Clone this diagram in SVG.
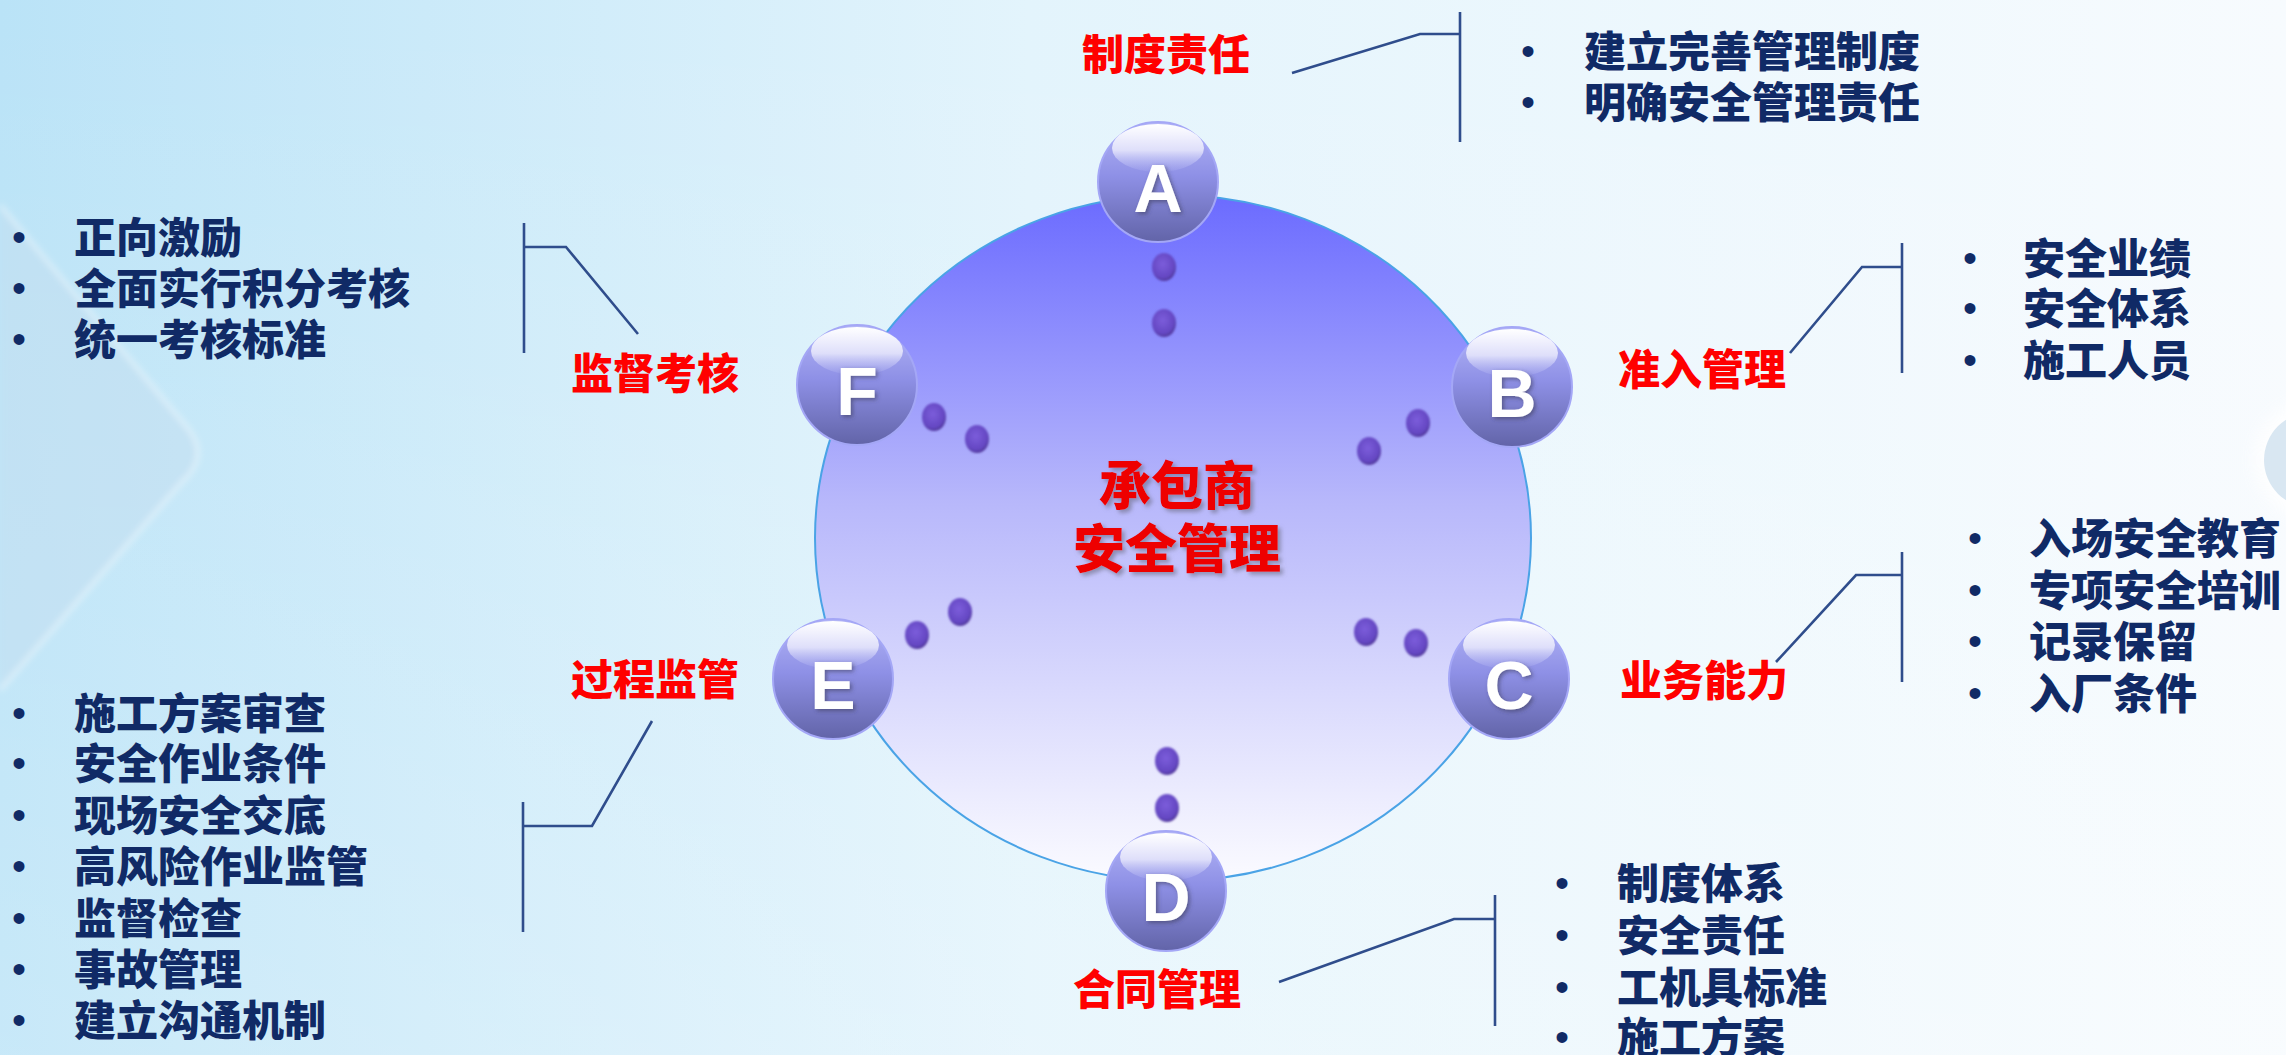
<svg xmlns="http://www.w3.org/2000/svg" width="2286" height="1055" viewBox="0 0 2286 1055">
<defs>
<linearGradient id="bg" x1="0" y1="0" x2="1" y2="0">
<stop offset="0" stop-color="#bae3f7"/>
<stop offset="0.45" stop-color="#e3f4fc"/>
<stop offset="1" stop-color="#f7fbfe"/>
</linearGradient>
<linearGradient id="bgv" x1="0" y1="0" x2="0" y2="1">
<stop offset="0" stop-color="#ffffff" stop-opacity="0"/>
<stop offset="1" stop-color="#ffffff" stop-opacity="0.2"/>
</linearGradient>
<linearGradient id="big" x1="0" y1="0" x2="0" y2="1">
<stop offset="0" stop-color="#6b6bff"/>
<stop offset="0.45" stop-color="#b8b8fb"/>
<stop offset="1" stop-color="#fbfbff"/>
</linearGradient>
<linearGradient id="sphere" x1="0" y1="0" x2="0" y2="1">
<stop offset="0" stop-color="#b4b6f6"/>
<stop offset="0.45" stop-color="#8e90e6"/>
<stop offset="1" stop-color="#6264a8"/>
</linearGradient>
<linearGradient id="gloss" x1="0" y1="0" x2="0" y2="1">
<stop offset="0" stop-color="#ffffff" stop-opacity="1"/>
<stop offset="0.55" stop-color="#eeeefd" stop-opacity="0.8"/>
<stop offset="1" stop-color="#b8baf5" stop-opacity="0.15"/>
</linearGradient>
<radialGradient id="dot" cx="0.45" cy="0.4" r="0.6">
<stop offset="0" stop-color="#7c5ddb"/>
<stop offset="0.8" stop-color="#6447c2"/>
<stop offset="1" stop-color="#4e3596"/>
</radialGradient>
<filter id="sh" x="-30%" y="-30%" width="160%" height="160%">
<feDropShadow dx="2" dy="2" stdDeviation="2" flood-color="#3c3c5a" flood-opacity="0.6"/>
</filter>
<filter id="shr" x="-10%" y="-20%" width="120%" height="140%">
<feDropShadow dx="3" dy="3" stdDeviation="2" flood-color="#6a6a80" flood-opacity="0.6"/>
</filter>
<filter id="blur" x="-50%" y="-50%" width="200%" height="200%">
<feGaussianBlur stdDeviation="8"/>
</filter>
<filter id="soft" x="-10%" y="-10%" width="120%" height="120%">
<feGaussianBlur stdDeviation="3"/>
</filter>
<filter id="fuzzy" x="-30%" y="-30%" width="160%" height="160%">
<feGaussianBlur stdDeviation="0.8"/>
</filter>
<g id="sph">
<circle cx="0" cy="0" r="60" fill="url(#sphere)" stroke="#a4a7f6" stroke-width="2"/>
<ellipse cx="0" cy="-34" rx="46" ry="24" fill="url(#gloss)"/>
</g>
</defs>
<style>
.list{font-family:"Noto Sans CJK SC","Liberation Sans",sans-serif;font-weight:900;font-size:42px;fill:#102a66}
.bul{font-family:"Liberation Sans",sans-serif;font-size:40px;fill:#102a66;text-anchor:middle}
.lab{font-family:"Noto Sans CJK SC","Liberation Sans",sans-serif;font-weight:900;font-size:42px;fill:#ff0000;text-anchor:middle}
.ctr{font-family:"Noto Sans CJK SC","Liberation Sans",sans-serif;font-weight:900;font-size:52px;fill:#ee0000;text-anchor:middle}
.let{font-family:"Liberation Sans",sans-serif;font-weight:700;font-size:68px;fill:#ffffff;text-anchor:middle}
.con{fill:none;stroke:#2f4d8c;stroke-width:2.6}
.dt{fill:url(#dot)}
</style>

<rect x="0" y="0" width="2286" height="1055" fill="url(#bg)"/>
<rect x="0" y="0" width="2286" height="1055" fill="url(#bgv)"/>
<g filter="url(#soft)">
<path d="M0 205 L185 425 Q212 455 182 482 L0 690 Z" fill="#c4ddef" opacity="0.5"/>
<path d="M0 205 L185 425 Q212 455 182 482 L0 690" fill="none" stroke="#ffffff" stroke-opacity="0.45" stroke-width="4"/>
</g>
<circle cx="2315" cy="460" r="60" fill="#ffffff" opacity="0.9" filter="url(#blur)"/>
<circle cx="2312" cy="460" r="48" fill="#d9e7f2"/>

<g id="center-node">
<ellipse cx="1173" cy="538" rx="358" ry="343" fill="url(#big)" stroke="#4aa3e6" stroke-width="2"/>
<g filter="url(#shr)">
<text class="ctr" x="1177" y="505">承包商</text>
<text class="ctr" x="1177" y="568">安全管理</text>
</g>
</g>

<g id="connectors">
<polyline class="con" points="1292,73 1420,34 1460,34"/>
<line class="con" x1="1460" y1="12" x2="1460" y2="142"/>
<polyline class="con" points="1790,353 1862,267 1902,267"/>
<line class="con" x1="1902" y1="243" x2="1902" y2="373"/>
<polyline class="con" points="1776,662 1856,575 1902,575"/>
<line class="con" x1="1902" y1="552" x2="1902" y2="682"/>
<polyline class="con" points="1279,982 1454,919 1495,919"/>
<line class="con" x1="1495" y1="895" x2="1495" y2="1026"/>
<polyline class="con" points="652,721 592,826 523,826"/>
<line class="con" x1="523" y1="802" x2="523" y2="932"/>
<polyline class="con" points="638,334 566,247 524,247"/>
<line class="con" x1="524" y1="223" x2="524" y2="353"/>
<g filter="url(#fuzzy)">
<ellipse class="dt" cx="1164" cy="267" rx="12" ry="14"/>
<ellipse class="dt" cx="1164" cy="323" rx="12" ry="14"/>
<ellipse class="dt" cx="1418" cy="423" rx="12" ry="14"/>
<ellipse class="dt" cx="1369" cy="451" rx="12" ry="14"/>
<ellipse class="dt" cx="1366" cy="632" rx="12" ry="14"/>
<ellipse class="dt" cx="1416" cy="643" rx="12" ry="14"/>
<ellipse class="dt" cx="1167" cy="761" rx="12" ry="14"/>
<ellipse class="dt" cx="1167" cy="808" rx="12" ry="14"/>
<ellipse class="dt" cx="917" cy="635" rx="12" ry="14"/>
<ellipse class="dt" cx="960" cy="612" rx="12" ry="14"/>
<ellipse class="dt" cx="934" cy="417" rx="12" ry="14"/>
<ellipse class="dt" cx="977" cy="439" rx="12" ry="14"/>
</g>
</g>

<g id="node-A">
<use href="#sph" x="1158" y="182"/>
<text class="let" x="1158" y="212" filter="url(#sh)">A</text>
</g>
<g id="node-B">
<use href="#sph" x="1512" y="387"/>
<text class="let" x="1512" y="417" filter="url(#sh)">B</text>
</g>
<g id="node-C">
<use href="#sph" x="1509" y="679"/>
<text class="let" x="1509" y="709" filter="url(#sh)">C</text>
</g>
<g id="node-D">
<use href="#sph" x="1166" y="891"/>
<text class="let" x="1166" y="921" filter="url(#sh)">D</text>
</g>
<g id="node-E">
<use href="#sph" x="833" y="679"/>
<text class="let" x="833" y="709" filter="url(#sh)">E</text>
</g>
<g id="node-F">
<use href="#sph" x="857" y="385"/>
<text class="let" x="857" y="415" filter="url(#sh)">F</text>
</g>

<g id="topic-A">
<text class="lab" x="1166" y="70">制度责任</text>
<text class="bul" x="1528" y="65">•</text>
<text class="bul" x="1528" y="116">•</text>
<text class="list" x="1584" y="67">建立完善管理制度</text>
<text class="list" x="1584" y="118">明确安全管理责任</text>
</g>
<g id="topic-B">
<text class="lab" x="1702" y="385">准入管理</text>
<text class="bul" x="1970" y="272">•</text>
<text class="bul" x="1970" y="322">•</text>
<text class="bul" x="1970" y="374">•</text>
<text class="list" x="2023" y="274">安全业绩</text>
<text class="list" x="2023" y="324">安全体系</text>
<text class="list" x="2023" y="376">施工人员</text>
</g>
<g id="topic-C">
<text class="lab" x="1704" y="696">业务能力</text>
<text class="bul" x="1975" y="552">•</text>
<text class="bul" x="1975" y="604">•</text>
<text class="bul" x="1975" y="655">•</text>
<text class="bul" x="1975" y="707">•</text>
<text class="list" x="2029" y="554">入场安全教育</text>
<text class="list" x="2029" y="606">专项安全培训</text>
<text class="list" x="2029" y="657">记录保留</text>
<text class="list" x="2029" y="709">入厂条件</text>
</g>
<g id="topic-D">
<text class="lab" x="1157" y="1005">合同管理</text>
<text class="bul" x="1562" y="897">•</text>
<text class="bul" x="1562" y="949">•</text>
<text class="bul" x="1562" y="1001">•</text>
<text class="bul" x="1562" y="1051">•</text>
<text class="list" x="1617" y="899">制度体系</text>
<text class="list" x="1617" y="951">安全责任</text>
<text class="list" x="1617" y="1003">工机具标准</text>
<text class="list" x="1617" y="1053">施工方案</text>
</g>
<g id="topic-E">
<text class="lab" x="655" y="695">过程监管</text>
<text class="bul" x="19" y="727">•</text>
<text class="bul" x="19" y="777">•</text>
<text class="bul" x="19" y="829">•</text>
<text class="bul" x="19" y="880">•</text>
<text class="bul" x="19" y="932">•</text>
<text class="bul" x="19" y="983">•</text>
<text class="bul" x="19" y="1034">•</text>
<text class="list" x="74" y="729">施工方案审查</text>
<text class="list" x="74" y="779">安全作业条件</text>
<text class="list" x="74" y="831">现场安全交底</text>
<text class="list" x="74" y="882">高风险作业监管</text>
<text class="list" x="74" y="934">监督检查</text>
<text class="list" x="74" y="985">事故管理</text>
<text class="list" x="74" y="1036">建立沟通机制</text>
</g>
<g id="topic-F">
<text class="lab" x="655" y="389">监督考核</text>
<text class="bul" x="19" y="251">•</text>
<text class="bul" x="19" y="302">•</text>
<text class="bul" x="19" y="353">•</text>
<text class="list" x="74" y="253">正向激励</text>
<text class="list" x="74" y="304">全面实行积分考核</text>
<text class="list" x="74" y="355">统一考核标准</text>
</g>
</svg>
